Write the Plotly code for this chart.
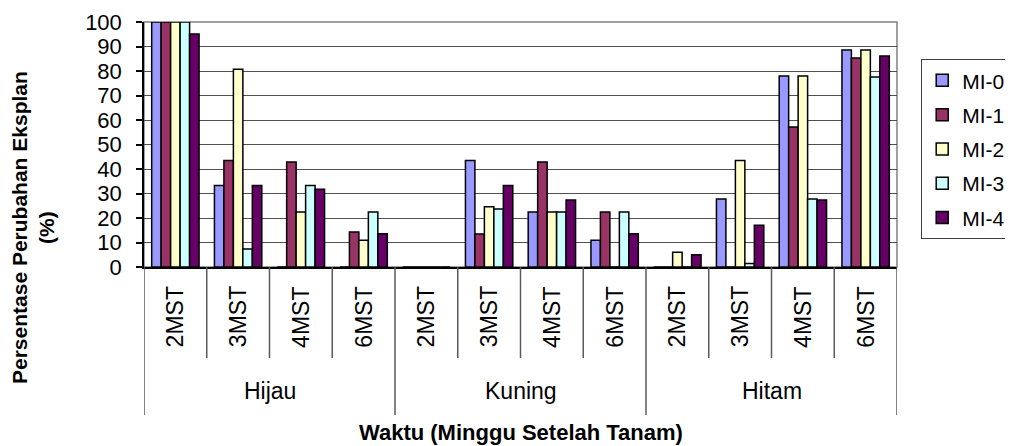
import plotly.graph_objects as go

# ---- data ----
groups = ["Hijau", "Kuning", "Hitam"]
weeks = ["2MST", "3MST", "4MST", "6MST"]
series_names = ["MI-0", "MI-1", "MI-2", "MI-3", "MI-4"]
mi0 = [100, 33.3, 0, 0, 0, 43.5, 22.4, 10.9, 0, 27.8, 78.0, 88.6]
mi1 = [100, 43.5, 42.9, 14.3, 0, 13.5, 42.9, 22.4, 0, 0, 57.1, 85.3]
mi2 = [100, 80.7, 22.4, 10.9, 0, 24.6, 22.4, 0, 6.0, 43.5, 78.0, 88.6]
mi3 = [100, 7.3, 33.3, 22.4, 0, 23.7, 22.4, 22.4, 0, 1.4, 27.8, 77.6]
mi4 = [95.1, 33.3, 31.7, 13.6, 0, 33.3, 27.3, 13.6, 5.0, 17.0, 27.3, 86.1]
y_ticks = [0, 10, 20, 30, 40, 50, 60, 70, 80, 90, 100]
x_title = "Waktu (Minggu Setelah Tanam)"
y_title = "Persentase Perubahan Eksplan<br>(%)"

colors = ["#9999FF", "#993366", "#FFFFCC", "#CCFFFF", "#660066"]
all_values = [mi0, mi1, mi2, mi3, mi4]

cats = [f"{g} {w}" for g in groups for w in weeks]

FONT = "Liberation Sans, Arial, sans-serif"

fig = go.Figure()
for name, vals, col in zip(series_names, all_values, colors):
    fig.add_trace(go.Bar(
        x=cats, y=vals, name=name, legendgroup=name,
        marker=dict(color=col, line=dict(color="black", width=1.5)),
    ))

# the page body has an 8px margin, so the figure is shifted by 8px
OFF = 8
W, H = 1013 - OFF, 446 - OFF
ml, mr, mt, mb = 144 - OFF, 116, 22 - OFF, 179
ph = 267 - 22
pw = 897 - 144


def py(pix):
    """reference-pixel y -> paper y"""
    return (267 - pix) / ph


def px(pix):
    """reference-pixel x -> paper x"""
    return (pix - 144) / pw


shapes = []
annotations = []
nw = len(weeks)
for gi, g in enumerate(groups):
    for wi, w in enumerate(weeks):
        idx = gi * nw + wi
        annotations.append(dict(
            x=idx, xref="x", y=py(317), yref="paper", text=w, textangle=-90,
            showarrow=False, font=dict(family=FONT, size=23, color="black"),
            xanchor="center", yanchor="middle"))
        if wi < nw - 1:
            shapes.append(dict(type="line", xref="x", yref="paper",
                               x0=idx + 0.5, x1=idx + 0.5, y0=0, y1=py(358),
                               line=dict(color="#5a5a5a", width=1.5)))
    annotations.append(dict(
        x=gi * nw + (nw - 1) / 2, xref="x", y=py(391), yref="paper", text=g,
        showarrow=False, font=dict(family=FONT, size=23, color="black"),
        xanchor="center", yanchor="middle"))
for b in range(len(groups) + 1):
    xb = b * nw - 0.5
    shapes.append(dict(type="line", xref="x", yref="paper",
                       x0=xb, x1=xb, y0=0, y1=py(415),
                       line=dict(color="#5a5a5a", width=1.5)))

# plot area border (gray)
shapes.append(dict(type="rect", xref="paper", yref="paper", x0=0, x1=1, y0=0, y1=1,
                   line=dict(color="#808080", width=1.5), layer="below"))

annotations.append(dict(
    x=(len(cats) - 1) / 2, xref="x", y=py(446), yref="paper",
    text=f"<b>{x_title}</b>",
    showarrow=False, font=dict(family=FONT, size=22, color="black"),
    xanchor="center", yanchor="bottom", borderpad=0))

annotations.append(dict(
    x=px(33), xref="paper", y=py(228), yref="paper",
    text=f"<b>{y_title}</b>", textangle=-90, showarrow=False,
    font=dict(family=FONT, size=21, color="black"),
    xanchor="center", yanchor="middle"))

fig.update_layout(
    width=W, height=H,
    margin=dict(l=ml, r=mr, t=mt, b=mb, autoexpand=False),
    paper_bgcolor="white", plot_bgcolor="white",
    barmode="group", bargap=0.245, bargroupgap=0,
    font=dict(family=FONT, size=21, color="black"),
    xaxis=dict(type="category", categoryorder="array", categoryarray=cats,
               range=[-0.5, len(cats) - 0.5], showticklabels=False,
               showgrid=False, zeroline=False, showline=True,
               linecolor="black", linewidth=1.5, ticks=""),
    yaxis=dict(range=[0, 100], tickvals=y_ticks, ticks="outside", ticklen=6,
               tickwidth=1.5, tickcolor="black", showline=True, linecolor="black",
               linewidth=1.5, showgrid=True, gridcolor="#505050", gridwidth=1.3,
               zeroline=False, ticklabelstandoff=10,
               tickfont=dict(family=FONT, size=22, color="black")),
    legend=dict(x=px(921), xanchor="left",
                y=py(59), yanchor="top",
                bordercolor="#404040", borderwidth=1.2, bgcolor="white",
                font=dict(family=FONT, size=21, color="black"),
                tracegroupgap=4, traceorder="grouped"),
    shapes=shapes, annotations=annotations,
    showlegend=True,
)

fig.write_html("out.html")
